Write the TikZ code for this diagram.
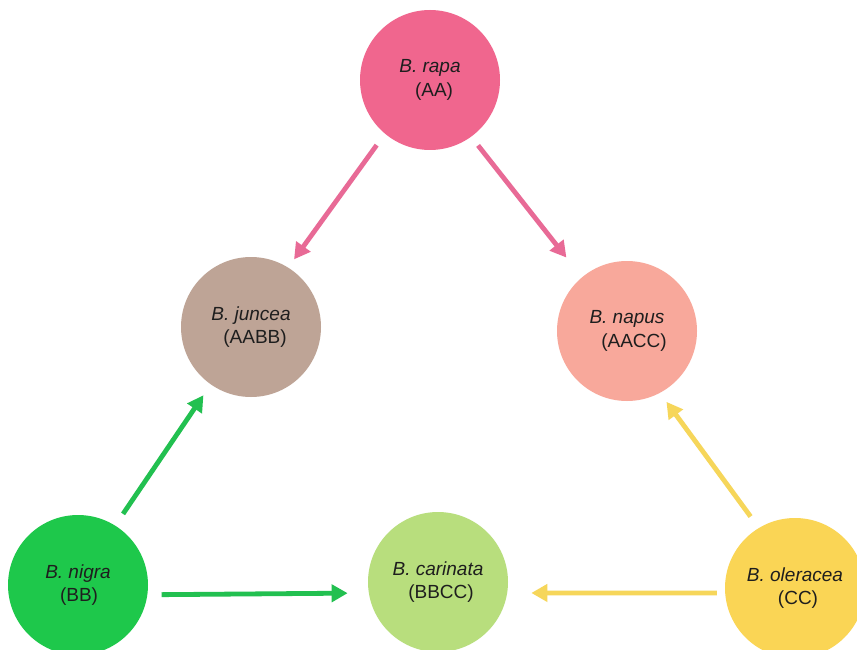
\documentclass[tikz,border=0pt]{standalone}
\usepackage{fontspec}
\setmainfont{Liberation Sans}
\usetikzlibrary{arrows.meta}
\definecolor{crapa}{RGB}{240,102,142}
\definecolor{cjuncea}{RGB}{190,164,150}
\definecolor{cnapus}{RGB}{248,168,155}
\definecolor{cnigra}{RGB}{30,200,75}
\definecolor{ccarinata}{RGB}{184,222,125}
\definecolor{coleracea}{RGB}{250,213,85}
\definecolor{apink}{RGB}{232,106,150}
\definecolor{agreen}{RGB}{34,192,80}
\definecolor{ayellow}{RGB}{246,214,90}
\definecolor{ctext}{RGB}{30,30,30}
\begin{document}
\begin{tikzpicture}[x=1pt,y=-1pt,
  species/.style={circle, minimum size=140pt, inner sep=0pt, align=center,
    font=\fontsize{19}{23.5}\selectfont, text=ctext},
  link/.style={line width=4.8pt, -{Triangle[length=16pt,width=17pt]}},
]
\useasboundingbox (0,0) rectangle (857,650);
\fill[white] (0,0) rectangle (857,650);

\node[species, fill=crapa] (rapa) at (430,80) {\textit{B. rapa}\\\hspace*{8pt}(AA)};
\node[species, fill=cjuncea] (juncea) at (251,327) {\textit{B. juncea}\\\hspace*{8pt}(AABB)};
\node[species, fill=cnapus] (napus) at (627,331) {\textit{B. napus}\\\hspace*{14pt}(AACC)};
\node[species, fill=cnigra] (nigra) at (78,585) {\textit{B. nigra}\\\hspace*{2pt}(BB)};
\node[species, fill=ccarinata] (carinata) at (438,582) {\textit{B. carinata}\\\hspace*{6pt}(BBCC)};
\node[species, fill=coleracea] (oleracea) at (795,588) {\textit{B. oleracea}\\\hspace*{6pt}(CC)};

\draw[link, apink, shorten <=14pt, shorten >=10pt] (rapa.230) -- (juncea.58);
\draw[link, apink, shorten <=11pt, shorten >=25pt] (rapa.-54) -- (napus.130);
\draw[link, agreen, shorten <=14pt, shorten >=13pt] (nigra.58) -- (juncea.235);
\draw[link, agreen, shorten <=14pt, shorten >=21pt] (nigra.-8) -- (carinata.189);
\draw[link, ayellow, shorten <=8pt, shorten >=24pt] (oleracea.184) -- (carinata.-9);
\draw[link, ayellow, shorten <=14pt, shorten >=11pt] (oleracea.121) -- (napus.-62);
\end{tikzpicture}
\end{document}
